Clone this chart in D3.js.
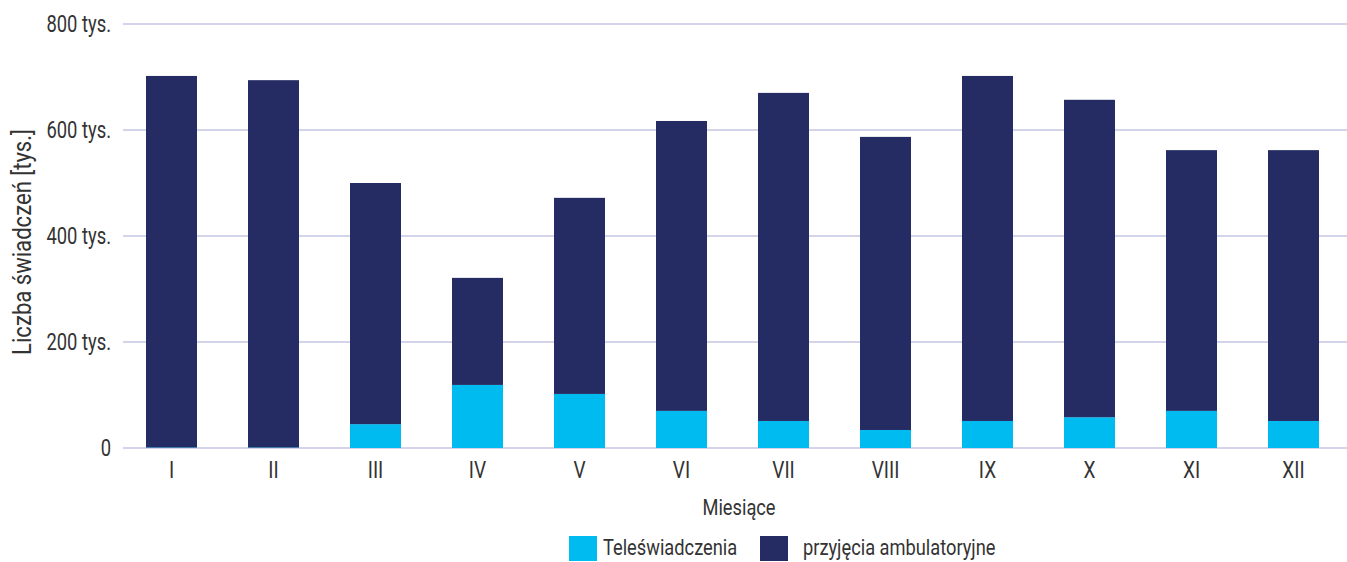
<!DOCTYPE html>
<html lang="pl">
<head>
<meta charset="utf-8">
<script src="https://cdn.jsdelivr.net/npm/d3@7"></script>
<style>
  html, body { margin: 0; padding: 0; background: #ffffff; }
  svg { display: block; }
  text { font-family: "Roboto", "DejaVu Sans", sans-serif; fill: #333333; }
</style>
</head>
<body>
<svg id="chart" width="1347" height="562"></svg>
<script>
// Miesiące (rzymskie)
const months = ["I", "II", "III", "IV", "V", "VI", "VII", "VIII", "IX", "X", "XI", "XII"];
// Teleświadczenia [tys.]
const teleValues = [1, 1, 45, 119, 102, 70, 51, 34, 51, 58, 70, 51];
// Wysokość całego słupka (teleświadczenia + przyjęcia ambulatoryjne) [tys.]
const totalValues = [702, 694, 500, 321, 472, 617, 670, 587, 702, 657, 562, 562];
// Przyjęcia ambulatoryjne [tys.]
const ambulValues = totalValues.map((t, i) => t - teleValues[i]);
// Podziałka osi Y
const yTicks = [0, 200, 400, 600, 800];
const yTickLabels = ["0", "200 tys.", "400 tys.", "600 tys.", "800 tys."];

const seriesNames = ["Teleświadczenia", "przyjęcia ambulatoryjne"];
const colors = ["#00bbef", "#252b63"];

const svg = d3.select("#chart");
const margin = { left: 120.5, right: 2.5, top: 24, bottom: 114 };
const W = 1347, H = 562;
const NARROW = 0.83; // zwężenie kroju pisma

// Tekst zwężony w poziomie
function label(parent, x, y, str, opts = {}) {
  const g = parent.append("g")
    .attr("transform", `translate(${x},${y}) rotate(${opts.rotate || 0}) scale(${opts.sx || NARROW},1)`);
  g.append("text")
    .attr("dy", "0.35em")
    .attr("text-anchor", opts.anchor || "start")
    .attr("font-size", opts.size || 22)
    .text(str);
  return g;
}

const x = d3.scaleBand()
  .domain(months)
  .range([margin.left, W - margin.right])
  .paddingInner(0.5)
  .paddingOuter(0.25);

const y = d3.scaleLinear()
  .domain([0, 800])
  .range([H - margin.bottom, margin.top]);

// Linie siatki
svg.append("g")
  .selectAll("line")
  .data(yTicks)
  .join("line")
  .attr("x1", 123)
  .attr("x2", W)
  .attr("y1", d => y(d))
  .attr("y2", d => y(d))
  .attr("stroke", "#d3d3ea")
  .attr("stroke-width", 2);

// Etykiety osi Y
const yAxisG = svg.append("g");
yTicks.forEach((d, i) => label(yAxisG, 111, y(d), yTickLabels[i], { anchor: "end", size: 23, sx: 0.8 }));

// Słupki skumulowane
const rows = months.map((m, i) => ({ month: m, tele: teleValues[i], ambul: ambulValues[i] }));
const layers = d3.stack().keys(["tele", "ambul"])(rows);

svg.append("g")
  .selectAll("g")
  .data(layers)
  .join("g")
  .attr("fill", (d, i) => colors[i])
  .selectAll("rect")
  .data(d => d)
  .join("rect")
  .attr("x", d => x(d.data.month))
  .attr("width", x.bandwidth())
  .attr("y", d => y(d[1]))
  .attr("height", d => y(d[0]) - y(d[1]));

// Etykiety osi X
const xAxisG = svg.append("g");
months.forEach(m => label(xAxisG, x(m) + x.bandwidth() / 2, 470, m, { anchor: "middle", size: 23 }));

// Tytuł osi X
label(svg, 739, 507, "Miesiące", { anchor: "middle", size: 22 });

// Tytuł osi Y
label(svg, 22, 242, "Liczba świadczeń [tys.]", { anchor: "middle", size: 26, rotate: -90, sx: 0.85 });

// Legenda
const legend = [
  { name: seriesNames[0], color: colors[0], sx: 569, tx: 603 },
  { name: seriesNames[1], color: colors[1], sx: 760, tx: 803 }
];
const lg = svg.append("g");
lg.selectAll("rect")
  .data(legend)
  .join("rect")
  .attr("x", d => d.sx)
  .attr("y", 536)
  .attr("width", 28)
  .attr("height", 25)
  .attr("fill", d => d.color);
legend.forEach(d => label(lg, d.tx, 547, d.name, { size: 22, sx: 0.83 }));
</script>
</body>
</html>
